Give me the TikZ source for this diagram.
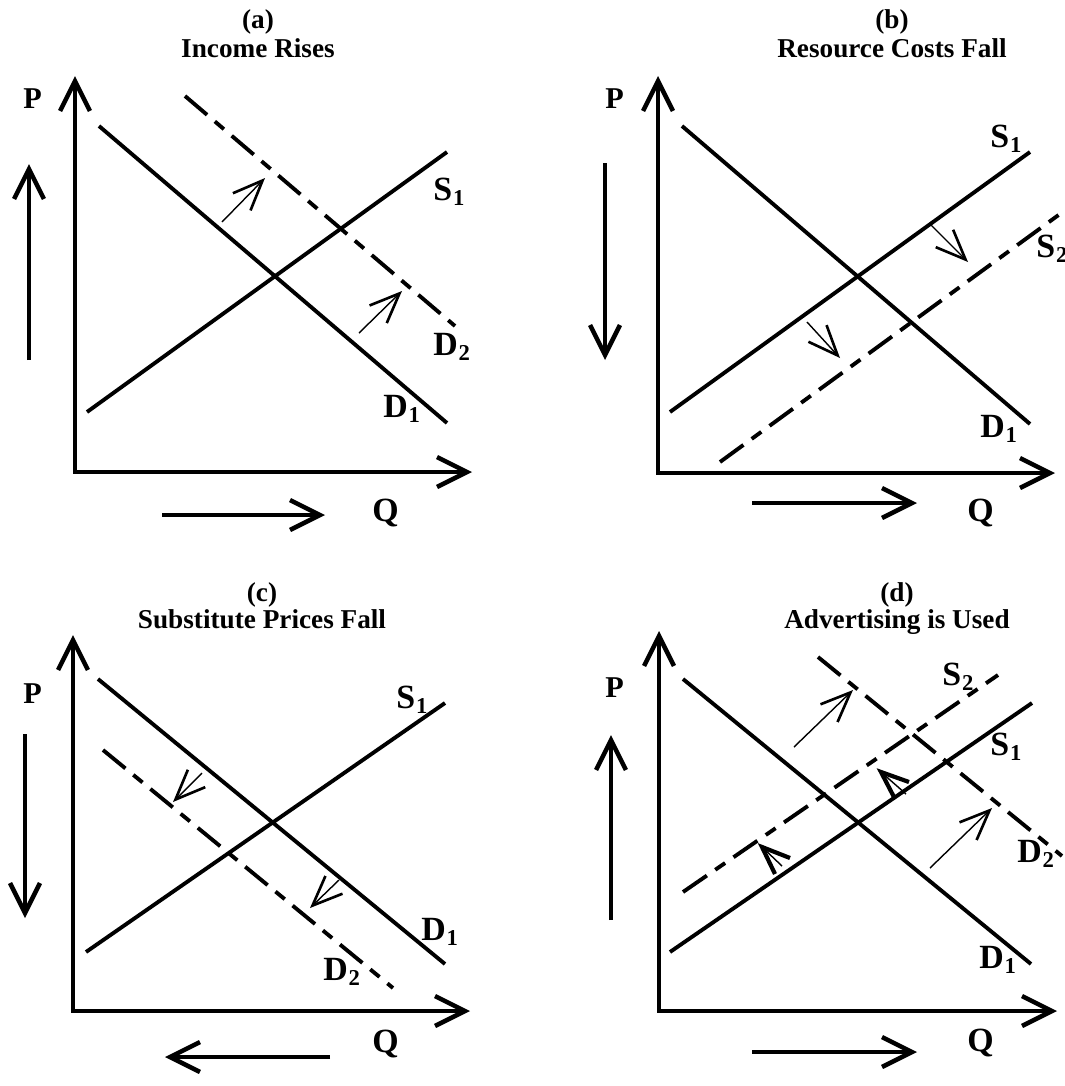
\documentclass[tikz,border=0pt]{standalone}
\usepackage{fontspec}
\setmainfont{Liberation Serif}
\usetikzlibrary{arrows.meta}
\newcommand{\crvlab}[2]{#1\kern0.5pt\raisebox{-3.4pt}{\fontsize{12.9}{14}\selectfont #2}}

\begin{document}
\begin{tikzpicture}[x=0.02cm, y=-0.02cm,
  every node/.style={font=\fontsize{15.5}{18}\selectfont\bfseries, inner sep=0pt},
  lbl/.style={anchor=base west, font=\fontsize{19.3}{22}\selectfont\bfseries},
  plbl/.style={anchor=base west, font=\fontsize{17.2}{20}\selectfont\bfseries},
  ttl/.style={anchor=base},
  curveline/.style={line width=2.2pt},
  dashcurve/.style={line width=2.2pt, dash pattern=on 16.5pt off 5.8pt on 6.8pt off 5.8pt},
  axes/.style={line width=2.6pt, line join=miter, {Straight Barb[length=17pt,width=17pt]}-{Straight Barb[length=17pt,width=17pt]}},
  bigarrow/.style={line width=2.6pt, -{Straight Barb[length=17pt,width=17pt]}},
  thinarrow/.style={line width=0.8pt, -{Straight Barb[length=17pt,width=14pt,line width=1.5pt]}},
  thinshaft/.style={line width=0.8pt},
  boldbarb/.style={line width=2.4pt, line join=miter}]
  \useasboundingbox (0,0) rectangle (1065,1086);

  % (a) income rises
  \node[ttl] (ta) at (258,28) {(a)};
  \node[ttl] (tta) at (258,57) {Income Rises};
  \node[plbl] (pa) at (23,108) {P};
  \node[lbl] (qa) at (372,521) {Q};
  \draw[axes] (75,76) -- (75,472) -- (472,472);
  \draw[curveline] (99,126) -- (447,423);
  \draw[curveline] (87,412) -- (447,152);
  \draw[dashcurve] (185,96) -- (455,326);
  \draw[thinarrow] (222,222) -- (265,178);
  \draw[thinarrow] (359,333) -- (402,291);
  \node[lbl] (s1a) at (433,200) {\crvlab{S}{1}};
  \node[lbl] (d2a) at (433,355) {\crvlab{D}{2}};
  \node[lbl] (d1a) at (383,417) {\crvlab{D}{1}};
  \draw[bigarrow] (29,360) -- (29,164);
  \draw[bigarrow] (162,515) -- (325,515);

  % (b) resource costs fall
  \node[ttl] (tb) at (892,28) {(b)};
  \node[ttl] (ttb) at (892,57) {Resource Costs Fall};
  \node[plbl] (pb) at (605,108) {P};
  \node[lbl] (qb) at (967,521) {Q};
  \draw[axes] (658,76) -- (658,473) -- (1055,473);
  \draw[curveline] (682,126) -- (1030,424);
  \draw[curveline] (670,412) -- (1030,152);
  \draw[dashcurve] (720,462) -- (1075,203);
  \draw[thinarrow] (931,225) -- (968,262);
  \draw[thinarrow] (807,322) -- (840,358);
  \node[lbl] (s1b) at (990,147) {\crvlab{S}{1}};
  \node[lbl] (s2b) at (1036,257) {\crvlab{S}{2}};
  \node[lbl] (d1b) at (980,437) {\crvlab{D}{1}};
  \draw[bigarrow] (605,163) -- (605,360);
  \draw[bigarrow] (752,503) -- (917,503);

  % (c) substitute prices fall
  \node[ttl] (tc) at (262,601) {(c)};
  \node[ttl] (ttc) at (262,628) {Substitute Prices Fall};
  \node[plbl] (pc) at (23,703) {P};
  \node[lbl] (qc) at (372,1052) {Q};
  \draw[axes] (73,635) -- (73,1011) -- (470,1011);
  \draw[curveline] (98,679) -- (445,964);
  \draw[curveline] (86,952) -- (445,703);
  \draw[dashcurve] (103,750) -- (393,988);
  \draw[thinarrow] (202,773) -- (173,802);
  \draw[thinarrow] (339,880) -- (310,908);
  \node[lbl] (s1c) at (396,708) {\crvlab{S}{1}};
  \node[lbl] (d1c) at (421,940) {\crvlab{D}{1}};
  \node[lbl] (d2c) at (323,980) {\crvlab{D}{2}};
  \draw[bigarrow] (25,734) -- (25,918);
  \draw[bigarrow] (330,1057) -- (165,1057);

  % (d) advertising is used
  \node[ttl] (td) at (897,601) {(d)};
  \node[ttl] (ttd) at (897,628) {Advertising is Used};
  \node[plbl] (pd) at (605,697) {P};
  \node[lbl] (qd) at (967,1051) {Q};
  \draw[axes] (659,631) -- (659,1011) -- (1057,1011);
  \draw[curveline] (683,679) -- (1031,964);
  \draw[curveline] (670,952) -- (1032,703);
  \draw[dashcurve] (818,657) -- (1062,856);
  \draw[dashcurve] (683,892) -- (998,675);
  \draw[thinarrow] (794,747) -- (853,690);
  \draw[thinarrow] (930,868) -- (992,808);
  \coordinate (tipu) at (881,772);
  \coordinate (tailu) at (906,794);
  \draw[thinshaft] (tailu) -- (tipu);
  \draw[boldbarb] (909,782) -- (tipu) -- (895,799);
  \coordinate (tipl) at (762,847);
  \coordinate (taill) at (782,866);
  \draw[thinshaft] (taill) -- (tipl);
  \draw[boldbarb] (790,858) -- (tipl) -- (775,874);
  \node[lbl] (s2d) at (942,685) {\crvlab{S}{2}};
  \node[lbl] (s1d) at (990,755) {\crvlab{S}{1}};
  \node[lbl] (d2d) at (1017,862) {\crvlab{D}{2}};
  \node[lbl] (d1d) at (979,968) {\crvlab{D}{1}};
  \draw[bigarrow] (611,920) -- (611,735);
  \draw[bigarrow] (752,1052) -- (917,1052);
\end{tikzpicture}
\end{document}
